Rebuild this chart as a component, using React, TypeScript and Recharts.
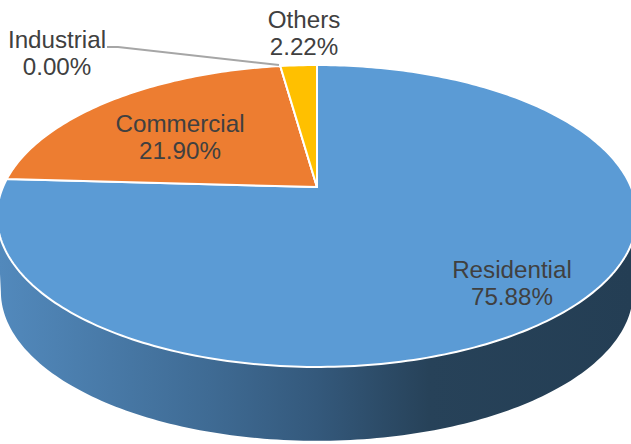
import { Pie, PieChart } from 'recharts'

const categories = ['Residential', 'Commercial', 'Industrial', 'Others']
const shares = [75.88, 21.9, 0, 2.22]
const sliceColors = ['#5b9bd5', '#ed7d31', '#a5a5a5', '#ffc000']

const data = categories.map((name, i) => ({ name, share: shares[i] }))

const WIDTH = 631
const HEIGHT = 444
const APEX_X = 317
const APEX_Y = 187

// Tilted disc: a circle seen in perspective, near edge larger than far edge
const TILT = 0.192
const SPREAD_X = 314
const SPREAD_Y = 145.4
const WALL_DROP = 76
const WALL_SCALE = 0.988

const RAD = Math.PI / 180

function project(angle: number, drop = 0, scale = 1) {
  const u = Math.cos(angle * RAD)
  const v = Math.sin(angle * RAD)
  const w = 1 + TILT * v
  return {
    x: APEX_X + (SPREAD_X * scale * u) / w,
    y: APEX_Y + drop - (SPREAD_Y * scale * v) / w,
  }
}

// sampled points between two pie angles, walking from `from` to `to`
function arcPoints(from: number, to: number, drop = 0, scale = 1) {
  const steps = Math.max(1, Math.ceil(Math.abs(from - to)))
  const pts = []
  for (let i = 0; i <= steps; i++) {
    const p = project(from + ((to - from) * i) / steps, drop, scale)
    pts.push(`${p.x.toFixed(2)} ${p.y.toFixed(2)}`)
  }
  return pts
}

function FaceSlice(props: any) {
  const { startAngle, endAngle, fill } = props
  const pts = arcPoints(startAngle, endAngle)
  const d = `M${APEX_X} ${APEX_Y} L${pts.join(' L')} Z`
  return <path d={d} fill={fill} stroke="#ffffff" strokeWidth={2} strokeLinejoin="round" />
}

// Only the part of a slice on the near side of the disc shows a wall
const WALL_FROM = -11.07
const WALL_TO = -168.93

function WallSlice(props: any) {
  const { startAngle, endAngle } = props
  const from = Math.min(startAngle, WALL_FROM)
  const to = Math.max(endAngle, WALL_TO)
  if (from <= to) return <g />
  const upper = arcPoints(from, to)
  const lower = arcPoints(to, from, WALL_DROP, WALL_SCALE)
  const d = `M${upper.join(' L')} L${lower.join(' L')} Z`
  return <path d={d} fill="url(#wallShade)" />
}

const labelSpots: Record<string, { x: number; y: number }> = {
  Residential: { x: 512, y: 278 },
  Commercial: { x: 180, y: 132 },
  Industrial: { x: 57, y: 48 },
  Others: { x: 304, y: 28 },
}

function SliceLabel(props: any) {
  const spot = labelSpots[props.name]
  if (!spot) return null
  return (
    <g>
      {props.name === 'Industrial' && (
        <polyline points="107,47 118,47 279,65" fill="none" stroke="#a6a6a6" strokeWidth={2} />
      )}
      <text
        x={spot.x}
        y={spot.y}
        textAnchor="middle"
        fontFamily="Liberation Sans, Arial, sans-serif"
        fontSize={24.2}
        fill="#404040"
      >
        <tspan x={spot.x}>{props.name}</tspan>
        <tspan x={spot.x} dy={27}>
          {Number(props.value).toFixed(2)}%
        </tspan>
      </text>
    </g>
  )
}

export default function App() {
  return (
    <div style={{ position: 'absolute', left: 0, top: 0, width: WIDTH, height: HEIGHT, background: '#fff', overflow: 'hidden' }}>
      <PieChart width={WIDTH} height={HEIGHT} margin={{ top: 0, right: 0, bottom: 0, left: 0 }}>
        <defs>
          <linearGradient id="wallShade" gradientUnits="userSpaceOnUse" x1={0} y1={0} x2={WIDTH} y2={0}>
            <stop offset="0" stopColor="#5289bc" />
            <stop offset="0.33" stopColor="#3f6b94" />
            <stop offset="0.5" stopColor="#34597c" />
            <stop offset="0.68" stopColor="#274259" />
            <stop offset="1" stopColor="#243e54" />
          </linearGradient>
        </defs>
        <Pie
          data={data}
          dataKey="share"
          nameKey="name"
          cx={APEX_X}
          cy={APEX_Y}
          outerRadius={320}
          startAngle={90}
          endAngle={-270}
          stroke="none"
          shape={WallSlice}
          isAnimationActive={false}
        />
        <Pie
          data={data.map((d, i) => ({ ...d, fill: sliceColors[i] }))}
          dataKey="share"
          nameKey="name"
          cx={APEX_X}
          cy={APEX_Y}
          outerRadius={320}
          startAngle={90}
          endAngle={-270}
          shape={FaceSlice}
          label={SliceLabel}
          labelLine={false}
          isAnimationActive={false}
        />
      </PieChart>
    </div>
  )
}
